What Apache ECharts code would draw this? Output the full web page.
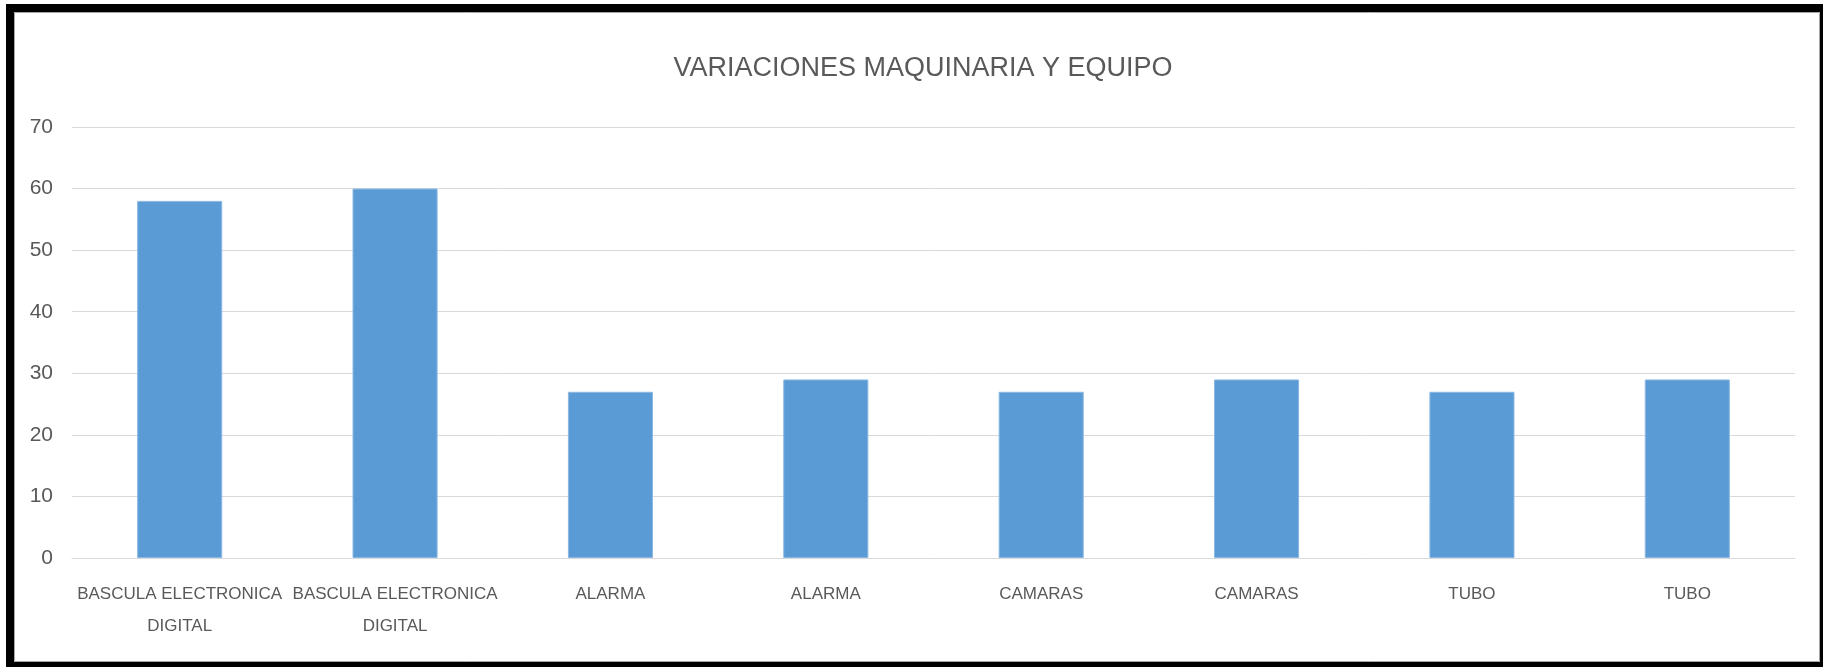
<!DOCTYPE html>
<html>
<head>
<meta charset="utf-8">
<script src="https://cdn.jsdelivr.net/npm/echarts@6/dist/echarts.min.js"></script>
<style>
html,body{margin:0;padding:0;background:#fff;}
#c{width:1823px;height:667px;}
</style>
</head>
<body>
<div id="c"></div>
<script>
var titleText = 'VARIACIONES MAQUINARIA Y EQUIPO';
var categories = ['BASCULA ELECTRONICA\nDIGITAL','BASCULA ELECTRONICA\nDIGITAL','ALARMA','ALARMA','CAMARAS','CAMARAS','TUBO','TUBO'];
var values = [58, 60, 27, 29, 27, 29, 27, 29];
var yTicks = {min: 0, max: 70, interval: 10};

var FONT = '"Liberation Sans", Arial, sans-serif';
var chart = echarts.init(document.getElementById('c'));
chart.setOption({
  animation: false,
  backgroundColor: '#ffffff',
  title: {
    text: titleText,
    left: 918,
    top: 64,
    textAlign: 'center',
    textVerticalAlign: 'middle',
    textStyle: {fontFamily: FONT, fontSize: 27, fontWeight: 'normal', color: '#595959'}
  },
  grid: {left: 72, right: 28, top: 127, bottom: 109, containLabel: false},
  xAxis: {
    type: 'category',
    data: categories,
    axisTick: {show: false},
    axisLine: {lineStyle: {color: '#d9d9d9', width: 1}},
    axisLabel: {interval: 0, fontFamily: FONT, fontSize: 17, color: '#595959', margin: 20, lineHeight: 32}
  },
  yAxis: {
    type: 'value',
    min: yTicks.min, max: yTicks.max, interval: yTicks.interval,
    axisLine: {show: false},
    axisTick: {show: false},
    splitLine: {lineStyle: {color: '#d9d9d9', width: 1}},
    axisLabel: {fontFamily: FONT, fontSize: 21, color: '#595959', margin: 19}
  },
  series: [{
    type: 'bar',
    data: values,
    barWidth: '39.5%',
    itemStyle: {color: '#5b9bd5', borderColor: '#8ab8e3', borderWidth: 1}
  }],
  graphic: [
    {type: 'rect', silent: true, z: 100, shape: {x: 14.5, y: 12.5, width: 1805, height: 649}, style: {fill: 'none', stroke: '#a6a6a6', lineWidth: 1}},
    {type: 'rect', silent: true, z: 101, shape: {x: 6, y: 4, width: 1817, height: 8}, style: {fill: '#000'}},
    {type: 'rect', silent: true, z: 101, shape: {x: 6, y: 4, width: 8, height: 663}, style: {fill: '#000'}},
    {type: 'rect', silent: true, z: 101, shape: {x: 1820, y: 4, width: 3, height: 663}, style: {fill: '#000'}},
    {type: 'rect', silent: true, z: 101, shape: {x: 6, y: 662, width: 1817, height: 5}, style: {fill: '#000'}}
  ]
});
</script>
</body>
</html>
